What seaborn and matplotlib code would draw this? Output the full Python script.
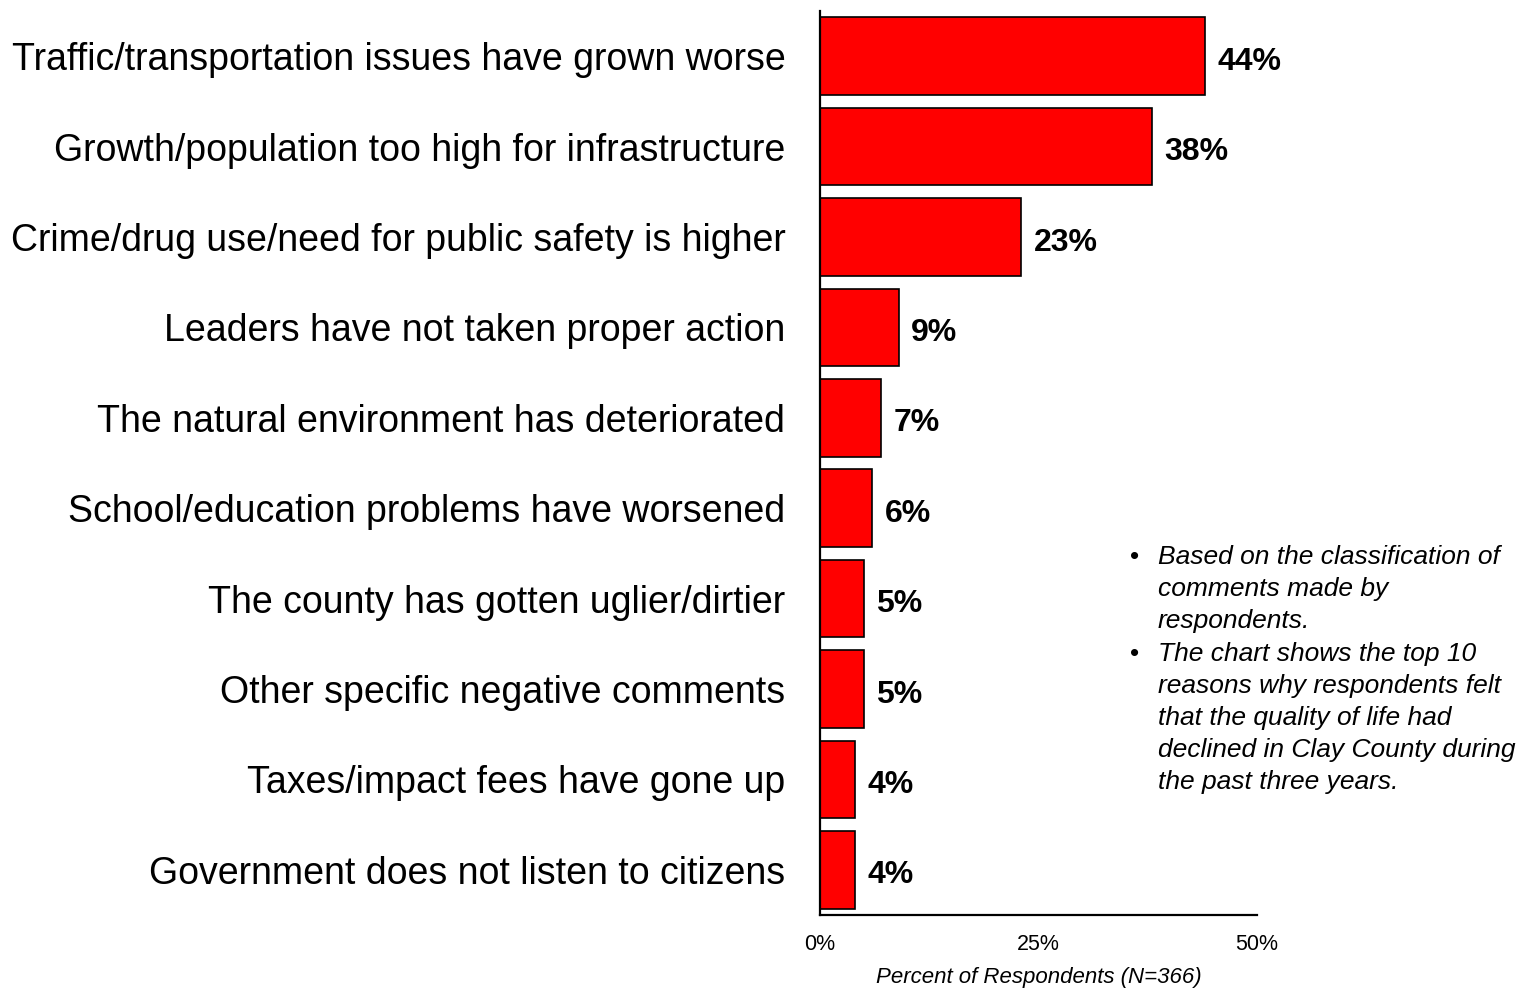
import matplotlib
matplotlib.use("Agg")
import matplotlib.pyplot as plt
import seaborn as sns
import pandas as pd

categories = [
    "Traffic/transportation issues have grown worse",
    "Growth/population too high for infrastructure",
    "Crime/drug use/need for public safety is higher",
    "Leaders have not taken proper action",
    "The natural environment has deteriorated",
    "School/education problems have worsened",
    "The county has gotten uglier/dirtier",
    "Other specific negative comments",
    "Taxes/impact fees have gone up",
    "Government does not listen to citizens",
]
values = [44, 38, 23, 9, 7, 6, 5, 5, 4, 4]
xticks = [0, 25, 50]
xtick_labels = ["0%", "25%", "50%"]
x_label = "Percent of Respondents (N=366)"
note_text = ("Based on the classification of\ncomments made by\nrespondents.\n"
             "The chart shows the top 10\nreasons why respondents felt\nthat the quality of life had\n"
             "declined in Clay County during\nthe past three years.")

sns.set_theme(style="white")
plt.rcParams["font.family"] = ["Liberation Sans", "DejaVu Sans"]
plt.rcParams["text.color"] = "black"
plt.rcParams["axes.labelcolor"] = "black"
plt.rcParams["xtick.color"] = "black"
plt.rcParams["ytick.color"] = "black"

df = pd.DataFrame({"cat": categories, "val": values})

fig = plt.figure(figsize=(15.21, 9.89), dpi=100)
ax = fig.add_axes([820 / 1521, 1 - 915 / 989, (1257 - 820) / 1521, (915 - 11) / 989])

sns.barplot(data=df, x="val", y="cat", orient="h", color="#ff0000", saturation=1,
            edgecolor="black", linewidth=1.2, width=0.86, ax=ax)

ax.set_xlim(0, 50)
ax.set_ylim(9.5, -0.5)
ax.set_xticks(xticks)
ax.set_xticklabels(xtick_labels, fontsize=15.5)
ax.tick_params(axis="x", length=0, pad=14)
ax.tick_params(axis="y", length=0, pad=25, labelsize=27)
ax.set_ylabel("")
ax.set_xlabel(x_label, fontsize=16, style="italic", labelpad=8)

for s in ["top", "right"]:
    ax.spines[s].set_visible(False)
for s in ["left", "bottom"]:
    ax.spines[s].set_color("black")
    ax.spines[s].set_linewidth(1.6)

for i, v in enumerate(values):
    ax.annotate(f"{v}%", xy=(v, i), xytext=(9, -4), textcoords="offset points",
                va="center", ha="left", fontsize=23, fontweight="bold")

top = 1 - 545 / 989
fig.text(1158 / 1521, top, note_text, fontsize=19, style="italic",
         va="top", ha="left", linespacing=1.43)
fig.text(1130 / 1521, top, "\u2022\n\n\n\u2022", fontsize=19,
         va="top", ha="left", linespacing=1.43)

fig.savefig("out.png", dpi=100)
